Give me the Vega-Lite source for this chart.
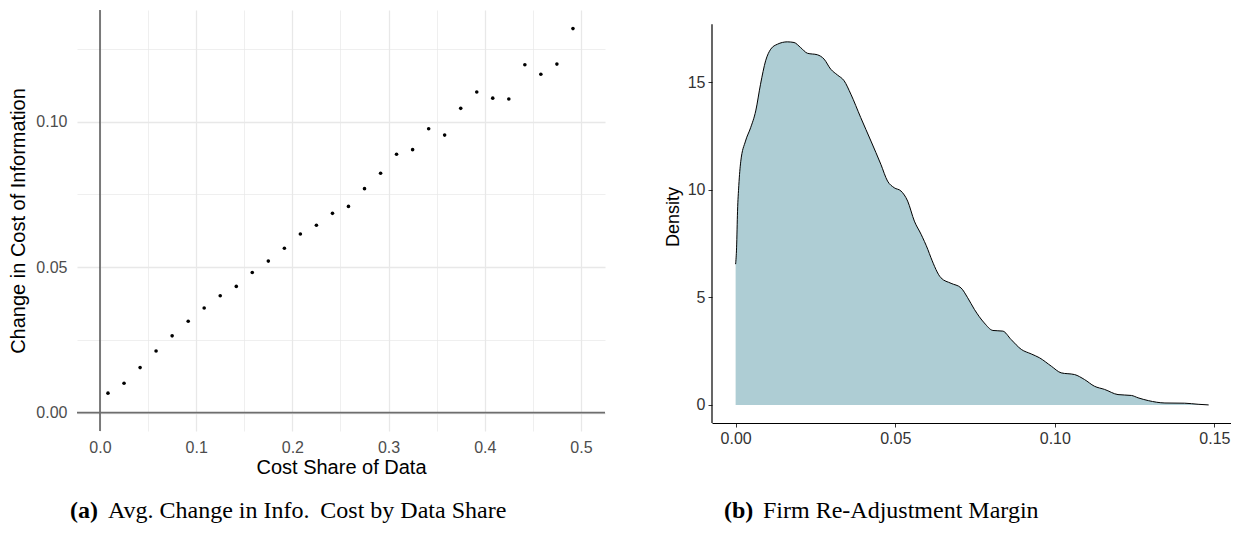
{
  "$schema": "https://vega.github.io/schema/vega-lite/v6.json",
  "background": "white",
  "padding": {"left": 8, "top": 9, "right": 0, "bottom": 0},
  "spacing": 58,
  "config": {
    "font": "Liberation Sans",
    "view": {"stroke": null},
    "title": {"font": "Liberation Serif", "fontSize": 24, "color": "black", "anchor": "start", "frame": "group", "orient": "bottom"}
  },
  "datasets": {
    "scatter": [
      {"share": 0.0083, "change": 0.0067},
      {"share": 0.0250, "change": 0.0101},
      {"share": 0.0417, "change": 0.0155},
      {"share": 0.0583, "change": 0.0212},
      {"share": 0.0750, "change": 0.0264},
      {"share": 0.0917, "change": 0.0314},
      {"share": 0.1083, "change": 0.0360},
      {"share": 0.1250, "change": 0.0402},
      {"share": 0.1417, "change": 0.0434},
      {"share": 0.1583, "change": 0.0482},
      {"share": 0.1750, "change": 0.0521},
      {"share": 0.1917, "change": 0.0565},
      {"share": 0.2083, "change": 0.0614},
      {"share": 0.2250, "change": 0.0644},
      {"share": 0.2417, "change": 0.0685},
      {"share": 0.2583, "change": 0.0709},
      {"share": 0.2750, "change": 0.0770},
      {"share": 0.2917, "change": 0.0823},
      {"share": 0.3083, "change": 0.0888},
      {"share": 0.3250, "change": 0.0904},
      {"share": 0.3417, "change": 0.0976},
      {"share": 0.3583, "change": 0.0954},
      {"share": 0.3750, "change": 0.1046},
      {"share": 0.3917, "change": 0.1102},
      {"share": 0.4083, "change": 0.1081},
      {"share": 0.4250, "change": 0.1078},
      {"share": 0.4417, "change": 0.1196},
      {"share": 0.4583, "change": 0.1163},
      {"share": 0.4750, "change": 0.1198},
      {"share": 0.4917, "change": 0.1320}
    ],
    "density": [
      {"margin": 0.0000, "density": 6.54},
      {"margin": 0.0003, "density": 7.3},
      {"margin": 0.0006, "density": 9.0},
      {"margin": 0.0010, "density": 10.2},
      {"margin": 0.0016, "density": 11.3},
      {"margin": 0.0031, "density": 12.26},
      {"margin": 0.0047, "density": 12.88},
      {"margin": 0.0063, "density": 13.66},
      {"margin": 0.0078, "density": 14.9},
      {"margin": 0.0094, "density": 15.99},
      {"margin": 0.0110, "density": 16.53},
      {"margin": 0.0131, "density": 16.76},
      {"margin": 0.0162, "density": 16.87},
      {"margin": 0.0183, "density": 16.84},
      {"margin": 0.0204, "density": 16.6},
      {"margin": 0.0225, "density": 16.34},
      {"margin": 0.0256, "density": 16.27},
      {"margin": 0.0277, "density": 16.07},
      {"margin": 0.0298, "density": 15.6},
      {"margin": 0.0319, "density": 15.33},
      {"margin": 0.0340, "density": 15.06},
      {"margin": 0.0361, "density": 14.44},
      {"margin": 0.0392, "density": 13.35},
      {"margin": 0.0424, "density": 12.26},
      {"margin": 0.0455, "density": 11.18},
      {"margin": 0.0476, "density": 10.4},
      {"margin": 0.0497, "density": 10.09},
      {"margin": 0.0518, "density": 9.94},
      {"margin": 0.0539, "density": 9.47},
      {"margin": 0.0560, "density": 8.54},
      {"margin": 0.0581, "density": 7.93},
      {"margin": 0.0602, "density": 7.23},
      {"margin": 0.0612, "density": 6.84},
      {"margin": 0.0643, "density": 5.91},
      {"margin": 0.0675, "density": 5.65},
      {"margin": 0.0706, "density": 5.44},
      {"margin": 0.0727, "density": 4.98},
      {"margin": 0.0748, "density": 4.44},
      {"margin": 0.0779, "density": 3.81},
      {"margin": 0.0806, "density": 3.46},
      {"margin": 0.0837, "density": 3.43},
      {"margin": 0.0863, "density": 3.04},
      {"margin": 0.0895, "density": 2.58},
      {"margin": 0.0926, "density": 2.37},
      {"margin": 0.0952, "density": 2.19},
      {"margin": 0.0989, "density": 1.80},
      {"margin": 0.1020, "density": 1.49},
      {"margin": 0.1062, "density": 1.41},
      {"margin": 0.1093, "density": 1.18},
      {"margin": 0.1124, "density": 0.87},
      {"margin": 0.1156, "density": 0.72},
      {"margin": 0.1198, "density": 0.48},
      {"margin": 0.1240, "density": 0.44},
      {"margin": 0.1261, "density": 0.33},
      {"margin": 0.1293, "density": 0.20},
      {"margin": 0.1345, "density": 0.09},
      {"margin": 0.1407, "density": 0.08},
      {"margin": 0.1449, "density": 0.03},
      {"margin": 0.1482, "density": 0.00}
    ]
  },
  "hconcat": [
    {
      "title": {"text": "Avg. Change in Info.\u2009 Cost by Data Share", "fontWeight": "normal", "offset": 0, "dx": 31, "dy": -24},
      "vconcat": [
        {
          "width": 528,
          "height": 421,
          "title": {"text": "(a)", "fontWeight": "bold", "offset": 22, "dx": -7},
          "layer": [
            {
              "data": {"values": [{}]},
              "mark": {"type": "rule", "color": "#1a1a1a", "strokeWidth": 1.1},
              "encoding": {"x": {"datum": 0, "type": "quantitative"}}
            },
            {
              "data": {"values": [{}]},
              "mark": {"type": "rule", "color": "#6e6e6e", "strokeWidth": 1.6},
              "encoding": {"y": {"datum": 0, "type": "quantitative"}}
            },
            {
              "data": {"name": "scatter"},
              "mark": {"type": "circle", "color": "black", "size": 13, "opacity": 1},
              "encoding": {
                "x": {
                  "field": "share", "type": "quantitative",
                  "scale": {"domain": [-0.0239, 0.525], "nice": false, "zero": false},
                  "axis": {
                    "title": "Cost Share of Data",
                    "values": [0, 0.05, 0.1, 0.15, 0.2, 0.25, 0.3, 0.35, 0.4, 0.45, 0.5],
                    "labelExpr": "round(datum.value*100) % 10 == 0 ? format(datum.value, '.1f') : ''",
                    "grid": true, "gridColor": "#e8e8e8",
                    "gridWidth": {"condition": {"test": "round(datum.value*100) % 10 == 0", "value": 1.3}, "value": 0.7},
                    "domain": false, "ticks": false,
                    "labelFontSize": 16, "labelColor": "#4d4d4d", "labelPadding": 8,
                    "titleFontSize": 20, "titleFontWeight": "normal", "titleColor": "black", "titlePadding": 2
                  }
                },
                "y": {
                  "field": "change", "type": "quantitative",
                  "scale": {"domain": [-0.0063, 0.1384], "nice": false, "zero": false},
                  "axis": {
                    "title": "Change in Cost of Information",
                    "values": [0, 0.025, 0.05, 0.075, 0.1, 0.125],
                    "labelExpr": "round(datum.value*1000) % 50 == 0 ? format(datum.value, '.2f') : ''",
                    "grid": true, "gridColor": "#e8e8e8",
                    "gridWidth": {"condition": {"test": "round(datum.value*1000) % 50 == 0", "value": 1.3}, "value": 0.7},
                    "domain": false, "ticks": false,
                    "labelFontSize": 16, "labelColor": "#4d4d4d", "labelPadding": 10,
                    "titleFontSize": 20, "titleFontWeight": "normal", "titleColor": "black", "titlePadding": 7
                  }
                }
              }
            }
          ]
        }
      ]
    },
    {
      "title": {"text": "Firm Re-Adjustment Margin", "fontWeight": "normal", "offset": 0, "dx": 51, "dy": -24},
      "vconcat": [
        {
          "width": 519,
          "height": 413,
          "title": {"text": "(b)", "fontWeight": "bold", "offset": 53, "dx": 12},
          "layer": [
            {
              "data": {"values": [{}]},
              "mark": {"type": "rule", "color": "black", "strokeWidth": 1.2},
              "encoding": {
                "x": {"datum": -0.0074, "type": "quantitative"},
                "y": {"datum": -0.84, "type": "quantitative"},
                "y2": {"datum": 17.69}
              }
            },
            {
              "data": {"name": "density"},
              "mark": {"type": "area", "color": "#aecdd4", "interpolate": "monotone"},
              "encoding": {
                "x": {"field": "margin", "type": "quantitative"},
                "y": {"field": "density", "type": "quantitative"}
              }
            },
            {
              "data": {"name": "density"},
              "mark": {"type": "line", "color": "black", "strokeWidth": 1, "interpolate": "monotone"},
              "encoding": {
                "x": {
                  "field": "margin", "type": "quantitative",
                  "scale": {"domain": [-0.0074, 0.1552], "nice": false, "zero": false},
                  "axis": {
                    "title": null,
                    "values": [0, 0.05, 0.1, 0.15], "format": ".2f",
                    "grid": false, "domain": true, "domainColor": "black", "domainWidth": 1.2,
                    "ticks": true, "tickColor": "#333333", "tickSize": 4, "tickWidth": 1,
                    "labelFontSize": 16, "labelColor": "#333333", "labelPadding": 3
                  }
                },
                "y": {
                  "field": "density", "type": "quantitative",
                  "scale": {"domain": [-0.84, 18.35], "nice": false, "zero": false},
                  "axis": {
                    "title": "Density",
                    "values": [0, 5, 10, 15],
                    "grid": false, "domain": false,
                    "ticks": true, "tickColor": "#333333", "tickSize": 4, "tickWidth": 1,
                    "labelFontSize": 16, "labelColor": "#333333", "labelPadding": 3,
                    "titleFontSize": 18, "titleFontWeight": "normal", "titleColor": "black", "titlePadding": 5
                  }
                }
              }
            }
          ]
        }
      ]
    }
  ]
}
